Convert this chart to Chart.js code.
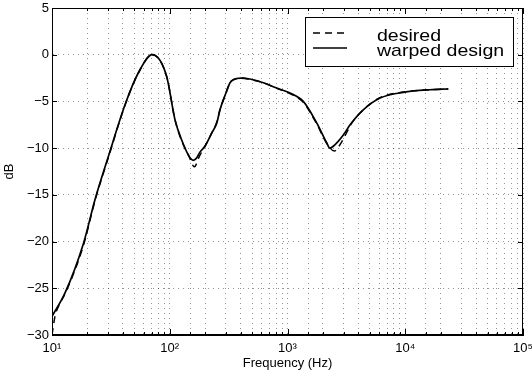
<!DOCTYPE html>
<html>
<head>
<meta charset="utf-8">
<script src="https://cdn.jsdelivr.net/npm/chart.js@4.4.1/dist/chart.umd.min.js"></script>
<style>
  html, body { margin: 0; padding: 0; background: #fff; }
</style>
</head>
<body>
<canvas id="chart" width="532" height="376"></canvas>
<script>
// values (frequency in Hz, level in dB)
const seriesLabels = ["desired", "warped design"];

const freqDesired = [10, 10.6, 11.7, 12.9, 18.5, 23.2, 30.1, 41.7, 54, 71, 94, 111, 126, 145, 162, 178, 199, 227, 251, 267, 300, 325, 350, 400, 479, 624, 809, 1047, 1361, 1770, 2155, 2500, 2800, 3190, 3400, 4400, 6110, 9620, 16200, 23200];
const dbDesired   = [-30.0, -28.0, -26.6, -25.6, -20.4, -15.6, -11.0, -5.4, -2.0, 0, -2.3, -7.0, -9.2, -10.8, -12.0, -10.9, -9.8, -8.4, -7.2, -5.9, -4.1, -3.0, -2.65, -2.5, -2.65, -3.0, -3.6, -4.15, -5.1, -7.4, -9.5, -10.3, -9.6, -8.3, -7.6, -5.9, -4.6, -4.0, -3.75, -3.67];

const freqWarped = [10, 12.9, 18.5, 23.2, 30.1, 41.7, 54, 71, 94, 111, 126, 148, 158, 168, 181, 199, 227, 251, 267, 300, 325, 350, 400, 479, 624, 809, 1047, 1361, 1770, 2155, 2290, 2450, 2980, 3400, 4400, 6110, 9620, 16200, 23200];
const dbWarped   = [-28.0, -25.5, -20.2, -15.5, -10.9, -5.35, -1.96, 0, -2.3, -7.0, -9.1, -11.0, -11.3, -11.1, -10.4, -9.8, -8.4, -7.3, -5.9, -4.1, -3.0, -2.65, -2.5, -2.6, -3.0, -3.57, -4.1, -5.0, -7.3, -9.45, -10.0, -9.8, -8.6, -7.5, -5.9, -4.64, -4.03, -3.75, -3.67];

const xTickValues = [10, 100, 1000, 10000, 100000];
const xTickLabels = ["10\u00b9", "10\u00b2", "10\u00b3", "10\u2074", "10\u2075"];
const yTickValues = [-30, -25, -20, -15, -10, -5, 0, 5];

const toPoints = (xs, ys) => xs.map((x, i) => ({ x: x, y: ys[i] }));
const isDecade = v => Math.abs(Math.log10(v) - Math.round(Math.log10(v))) < 1e-6;

const FONT = '"Liberation Sans", Arial, Helvetica, sans-serif';
const GRID = "rgba(0,0,0,0.42)";

// box around the axes + matlab-ish inward ticks
const framePlugin = {
  id: "frame",
  afterDatasetsDraw(chart) {
    const { ctx, chartArea: a, scales } = chart;
    ctx.save();
    ctx.strokeStyle = "#000";
    ctx.lineWidth = 1;
    ctx.strokeRect(a.left + 0.5, a.top + 0.5, a.width - 1, a.height - 1);
    ctx.beginPath();
    scales.x.ticks.forEach(t => {
      const px = Math.round(scales.x.getPixelForValue(t.value)) + 0.5;
      const len = isDecade(t.value) ? 6 : 3;
      ctx.moveTo(px, a.bottom); ctx.lineTo(px, a.bottom - len);
      ctx.moveTo(px, a.top); ctx.lineTo(px, a.top + len);
    });
    yTickValues.forEach(v => {
      const py = Math.round(scales.y.getPixelForValue(v)) + 0.5;
      ctx.moveTo(a.left, py); ctx.lineTo(a.left + 5, py);
      ctx.moveTo(a.right, py); ctx.lineTo(a.right - 5, py);
    });
    ctx.stroke();
    ctx.restore();
  }
};

// legend drawn inside the axes, top right, with a box
const legendPlugin = {
  id: "boxLegend",
  afterDraw(chart) {
    const { ctx, chartArea: a } = chart;
    const w = 208, h = 49;
    const right = a.right - 10, top = a.top + 9, left = right - w;
    ctx.save();
    ctx.fillStyle = "#fff";
    ctx.fillRect(left, top, w, h);
    ctx.strokeStyle = "#000";
    ctx.lineWidth = 1;
    ctx.strokeRect(left + 0.5, top + 0.5, w, h);
    chart.data.datasets.forEach((ds, i) => {
      const cy = top + 16 + i * 15;
      ctx.beginPath();
      ctx.setLineDash(ds.borderDash || []);
      ctx.lineWidth = 1.3;
      ctx.strokeStyle = ds.borderColor;
      ctx.moveTo(left + 8, cy);
      ctx.lineTo(left + 42, cy);
      ctx.stroke();
      ctx.setLineDash([]);
      ctx.fillStyle = "#000";
      ctx.font = "17px " + FONT;
      ctx.textBaseline = "alphabetic";
      ctx.save();
      ctx.translate(left + 72, cy + 7.5);
      ctx.scale(1.15, 1);
      ctx.fillText(ds.label, 0, 0);
      ctx.restore();
    });
    ctx.restore();
  }
};

new Chart(document.getElementById("chart"), {
  type: "line",
  data: {
    datasets: [
      {
        label: seriesLabels[0],
        data: toPoints(freqDesired, dbDesired),
        borderColor: "#000",
        borderWidth: 1.5,
        borderDash: [7, 5],
        pointRadius: 0,
        cubicInterpolationMode: "monotone",
        fill: false,
        order: 1,
      },
      {
        label: seriesLabels[1],
        data: toPoints(freqWarped, dbWarped),
        borderColor: "#000",
        borderWidth: 1.7,
        pointRadius: 0,
        cubicInterpolationMode: "monotone",
        fill: false,
        order: 0,
      },
    ],
  },
  options: {
    responsive: false,
    animation: false,
    layout: { padding: { top: 8, right: 9, left: 0, bottom: 0 } },
    plugins: {
      legend: { display: false },
      tooltip: { enabled: false },
    },
    scales: {
      x: {
        type: "logarithmic",
        min: 10,
        max: 100000,
        grid: { color: GRID, lineWidth: 1, drawTicks: false },
        border: { display: true, color: "#000", width: 1, dash: [1, 4] },
        ticks: {
          autoSkip: false,
          maxRotation: 0,
          padding: 6,
          color: "#000",
          font: { family: FONT, size: 13 },
          callback: v => {
            const k = xTickValues.findIndex(t => Math.abs(t - v) < 1e-6 * t);
            return k >= 0 ? xTickLabels[k] : "";
          },
        },
        title: {
          display: true,
          text: "Frequency (Hz)",
          color: "#000",
          font: { family: FONT, size: 13 },
          padding: { top: 0, bottom: 5 },
        },
        afterFit(scale) {
          scale.height = 41;
          scale.paddingLeft = 0;
          scale.paddingRight = 0;
        },
      },
      y: {
        min: -30,
        max: 5,
        grid: { color: GRID, lineWidth: 1, drawTicks: false },
        border: { display: true, color: "#000", width: 1, dash: [1, 4] },
        afterBuildTicks(scale) {
          scale.ticks = yTickValues.map(v => ({ value: v }));
        },
        ticks: {
          padding: 3,
          color: "#000",
          font: { family: FONT, size: 13 },
          callback: v => (v < 0 ? "\u2212" + Math.abs(v) : String(v)),
        },
        title: {
          display: true,
          text: "dB",
          color: "#000",
          font: { family: FONT, size: 13 },
          padding: { top: 2, bottom: 0 },
        },
        afterFit(scale) {
          scale.width = 52;
          scale.paddingTop = 0;
          scale.paddingBottom = 0;
        },
      },
    },
  },
  plugins: [framePlugin, legendPlugin],
});
</script>
</body>
</html>
